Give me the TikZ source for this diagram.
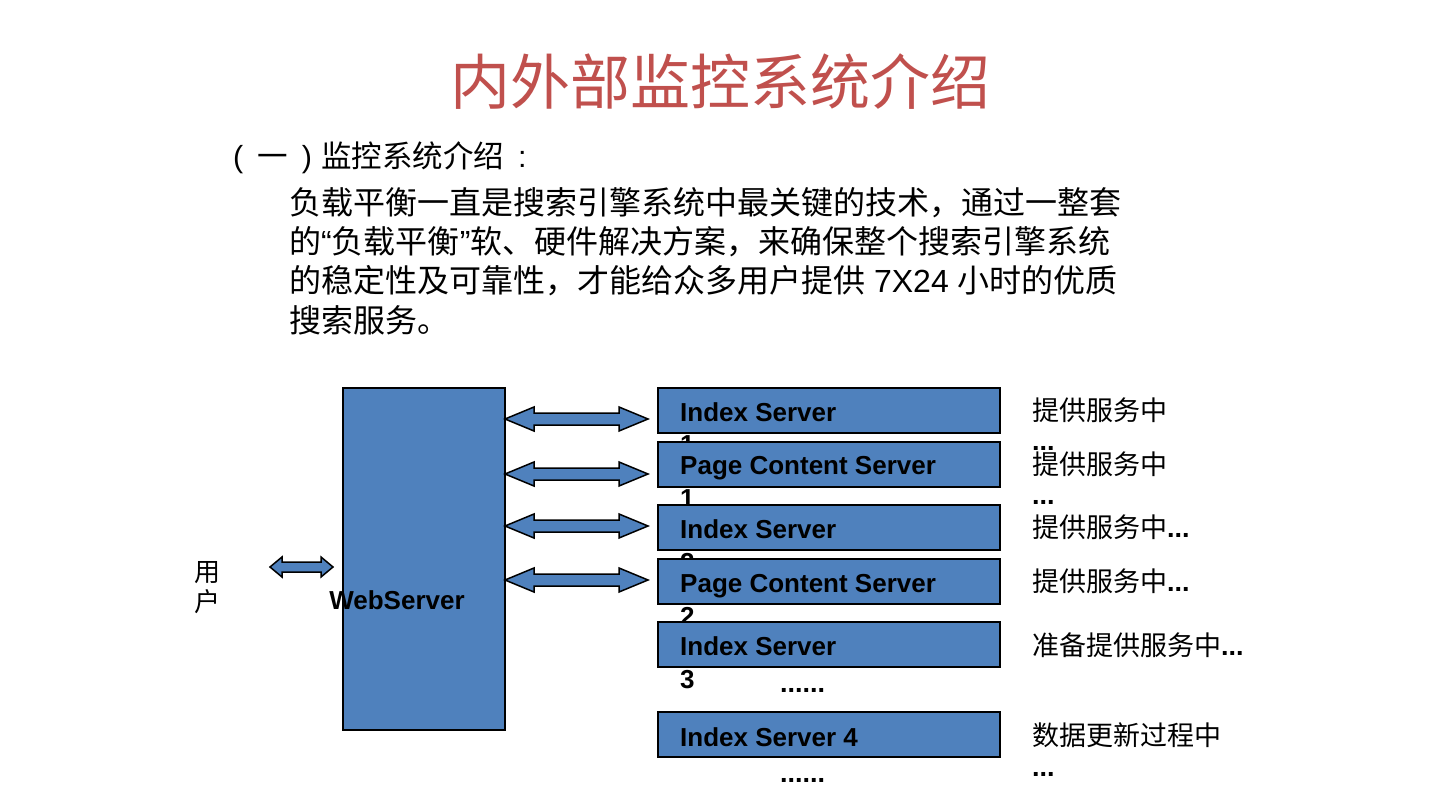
\documentclass[tikz,border=0pt]{standalone}
\usepackage{fontspec}
\setmainfont{Liberation Sans}
\newfontfamily\cjk{Noto Sans CJK SC}
\definecolor{boxblue}{RGB}{79,129,189}
\definecolor{titlered}{RGB}{192,80,77}
\tikzset{
  srv/.style={draw=black, line width=2pt, fill=boxblue, inner sep=0pt, anchor=north west, minimum width=342pt, minimum height=45pt},
  lbl/.style={anchor=base west, inner sep=0pt, font=\fontsize{26}{30}\selectfont\bfseries},
  dbl/.style={draw=black, line width=1.5pt, fill=boxblue, line join=miter},
  stat/.style={anchor=west, inner sep=0pt, font=\cjk\fontsize{27}{30}\selectfont},
  dots/.style={anchor=base west, inner sep=0pt, font=\fontsize{27}{30}\selectfont\bfseries},
  para/.style={anchor=west, inner sep=0pt, font=\cjk\fontsize{32}{36}\selectfont}
}
\newcommand\dblarr[6]{\draw[dbl] (#1,#3) -- (#1+#4,#3-#5) -- (#1+#4,#3-#6) -- (#2-#4,#3-#6) -- (#2-#4,#3-#5) -- (#2,#3) -- (#2-#4,#3+#5) -- (#2-#4,#3+#6) -- (#1+#4,#3+#6) -- (#1+#4,#3+#5) -- cycle;}
\begin{document}
\begin{tikzpicture}[x=1pt,y=-1pt]
\useasboundingbox (0,0) rectangle (1440,810);
\fill[white] (0,0) rectangle (1440,810);
% title
\node[inner sep=0pt, text=titlered, font=\cjk\fontsize{60}{66}\selectfont] (title) at (720,82) {内外部监控系统介绍};
% heading and paragraph
\node[anchor=west, inner sep=0pt, font=\cjk\fontsize{30.5}{34}\selectfont] (head) at (233,158) {{\rmfamily (}\hspace{14pt}一\hspace{14pt}{\rmfamily )}\hspace{9pt}监控系统介绍\hspace{14pt}{\rmfamily :}};
\node[para] (p1) at (289,203) {负载平衡一直是搜索引擎系统中最关键的技术，通过一整套};
\node[para] (p2) at (289,242) {的{\rmfamily “}负载平衡{\rmfamily ”}软、硬件解决方案，来确保整个搜索引擎系统};
\node[para] (p3) at (289,281) {的稳定性及可靠性，才能给众多用户提供{\rmfamily\ 7X24 }小时的优质};
\node[para] (p4) at (289,320) {搜索服务。};
% user
\node[inner sep=0pt, align=center, font=\cjk\fontsize{26}{30}\selectfont] (user) at (207,588) {用\\户};
\dblarr{270}{333}{567}{12}{10}{5}
% web server
\node[srv, minimum width=162pt, minimum height=342pt] (web) at (342,387) {};
\node[inner sep=0pt, font=\fontsize{26}{30}\selectfont\bfseries] (webl) at (397,600) {WebServer};
% arrows to servers
\dblarr{505}{648}{419}{29}{12}{6}
\dblarr{505}{648}{474}{29}{12}{6}
\dblarr{505}{648}{526}{29}{12}{6}
\dblarr{505}{648}{580}{29}{12}{6}
% server boxes
\node[srv] (s1) at (657,387) {};
\node[lbl] (s1a) at (680,421) {Index Server};
\node[lbl] (s1b) at (680,453) {1};
\node[srv] (s2) at (657,441) {};
\node[lbl] (s2a) at (680,474) {Page Content Server};
\node[lbl] (s2b) at (680,507) {1};
\node[srv] (s3) at (657,504) {};
\node[lbl] (s3a) at (680,538) {Index Server};
\node[lbl] (s3b) at (680,571) {2};
\node[srv] (s4) at (657,558) {};
\node[lbl] (s4a) at (680,592) {Page Content Server};
\node[lbl] (s4b) at (680,625) {2};
\node[srv] (s5) at (657,621) {};
\node[lbl] (s5a) at (680,655) {Index Server};
\node[lbl] (s5b) at (680,688) {3};
\node[dots] (d1) at (780,692) {......};
\node[srv] (s6) at (657,711) {};
\node[lbl] (s6a) at (680,746) {Index Server 4};
\node[dots] (d2) at (780,782) {......};
% status texts
\node[stat] (t1) at (1032,410) {提供服务中};
\node[dots] (t1d) at (1032,450) {...};
\node[stat] (t2) at (1032,464) {提供服务中};
\node[dots] (t2d) at (1032,504) {...};
\node[stat] (t3) at (1032,527) {提供服务中{\rmfamily\bfseries ...}};
\node[stat] (t4) at (1032,581) {提供服务中{\rmfamily\bfseries ...}};
\node[stat] (t5) at (1032,645) {准备提供服务中{\rmfamily\bfseries ...}};
\node[stat] (t6) at (1032,735) {数据更新过程中};
\node[dots] (t6d) at (1032,776) {...};
\end{tikzpicture}
\end{document}
